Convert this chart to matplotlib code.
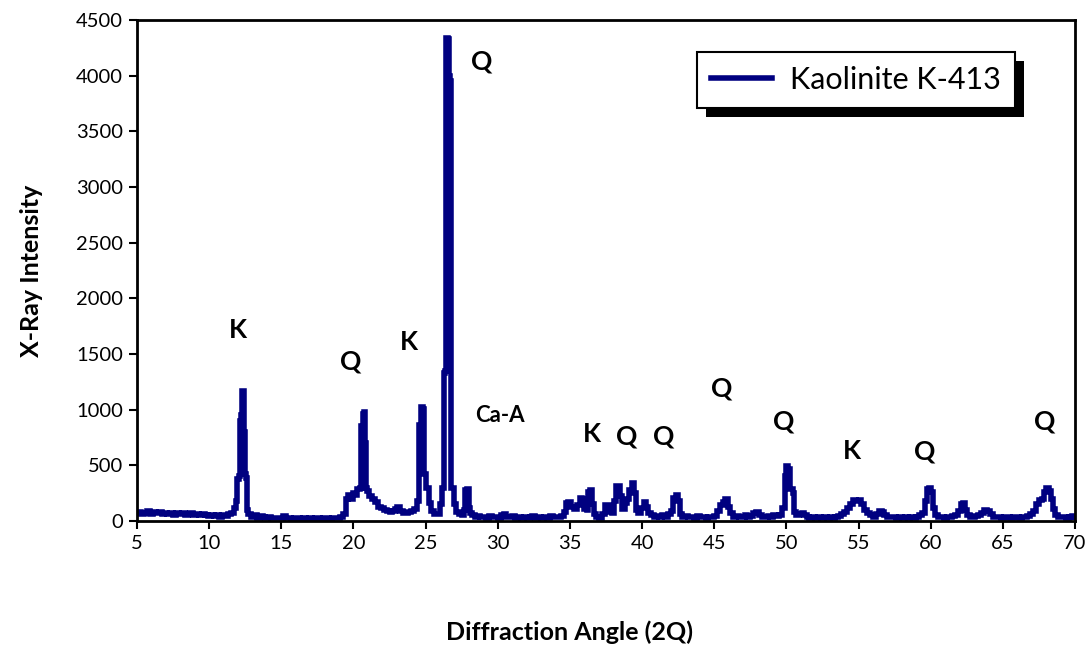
import matplotlib
matplotlib.use("Agg")
from matplotlib import pyplot as plt
from matplotlib.patches import Rectangle

plt.rcParams['font.family'] = ['Lato', 'DejaVu Sans']

# diffraction scan
two_theta = [
    5.0, 5.2, 5.4, 5.6, 5.8, 6.0, 6.2, 6.4, 6.6, 6.8,
    7.0, 7.2, 7.4, 7.6, 7.8, 8.0, 8.2, 8.4, 8.6, 8.8,
    9.0, 9.2, 9.4, 9.6, 9.8, 10.0, 10.2, 10.4, 10.6, 10.8,
    11.0, 11.2, 11.4, 11.6, 11.8, 11.9, 12.0, 12.1, 12.15, 12.25,
    12.3, 12.4, 12.45, 12.5, 12.6, 12.65, 12.8, 13.0, 13.2, 13.4,
    13.6, 13.8, 14.0, 14.2, 14.4, 14.6, 14.8, 15.0, 15.2, 15.4,
    15.6, 15.8, 16.0, 16.2, 16.4, 16.6, 16.8, 17.0, 17.2, 17.4,
    17.6, 17.8, 18.0, 18.2, 18.4, 18.6, 18.8, 19.0, 19.2, 19.4,
    19.55, 19.7, 19.9, 20.0, 20.2, 20.35, 20.5, 20.6, 20.7, 20.8,
    20.85, 20.9, 21.0, 21.2, 21.4, 21.6, 21.8, 22.0, 22.2, 22.4,
    22.6, 22.8, 23.0, 23.1, 23.3, 23.5, 23.7, 23.9, 24.1, 24.3,
    24.5, 24.6, 24.75, 24.85, 24.95, 25.1, 25.3, 25.5, 25.7, 25.9,
    26.1, 26.2, 26.3, 26.4, 26.45, 26.6, 26.65, 26.75, 26.8, 26.9,
    27.0, 27.2, 27.4, 27.6, 27.7, 27.8, 27.95, 28.0, 28.1, 28.3,
    28.5, 28.7, 28.9, 29.1, 29.3, 29.5, 29.7, 29.9, 30.1, 30.3,
    30.5, 30.7, 30.9, 31.1, 31.3, 31.5, 31.7, 31.9, 32.1, 32.3,
    32.5, 32.7, 32.9, 33.1, 33.3, 33.5, 33.7, 33.9, 34.1, 34.3,
    34.5, 34.7, 34.8, 35.0, 35.2, 35.4, 35.6, 35.8, 35.9, 36.1,
    36.2, 36.3, 36.5, 36.6, 36.7, 36.9, 37.1, 37.3, 37.5, 37.65,
    37.8, 38.0, 38.1, 38.25, 38.4, 38.5, 38.7, 38.9, 39.0, 39.2,
    39.35, 39.5, 39.65, 39.8, 40.0, 40.2, 40.35, 40.5, 40.7, 40.9,
    41.1, 41.3, 41.5, 41.7, 41.9, 42.1, 42.25, 42.4, 42.55, 42.7,
    42.9, 43.1, 43.3, 43.5, 43.7, 43.9, 44.1, 44.3, 44.5, 44.7,
    44.9, 45.1, 45.3, 45.5, 45.7, 45.85, 46.0, 46.2, 46.4, 46.6,
    46.8, 47.0, 47.2, 47.4, 47.6, 47.8, 48.0, 48.2, 48.4, 48.6,
    48.8, 49.0, 49.2, 49.4, 49.6, 49.8, 49.95, 50.05, 50.2, 50.35,
    50.5, 50.6, 50.8, 51.0, 51.15, 51.3, 51.5, 51.7, 51.9, 52.1,
    52.3, 52.5, 52.7, 52.9, 53.1, 53.3, 53.5, 53.7, 53.9, 54.1,
    54.3, 54.5, 54.7, 54.9, 55.1, 55.3, 55.5, 55.7, 55.9, 56.1,
    56.3, 56.5, 56.7, 56.9, 57.1, 57.3, 57.5, 57.7, 57.9, 58.1,
    58.3, 58.5, 58.7, 58.9, 59.1, 59.3, 59.5, 59.65, 59.8, 59.95,
    60.1, 60.25, 60.4, 60.6, 60.8, 61.0, 61.2, 61.4, 61.6, 61.8,
    62.0, 62.15, 62.3, 62.45, 62.6, 62.8, 63.0, 63.2, 63.4, 63.6,
    63.8, 64.0, 64.2, 64.4, 64.6, 64.8, 65.0, 65.2, 65.4, 65.6,
    65.8, 66.0, 66.2, 66.4, 66.6, 66.8, 67.0, 67.2, 67.4, 67.6,
    67.8, 67.95, 68.1, 68.25, 68.4, 68.55, 68.7, 68.9, 69.1, 69.3,
    69.5, 69.7, 69.9, 70.0,
]
intensity = [
    70, 85, 60, 75, 90, 65, 80, 70, 85, 60,
    70, 65, 75, 55, 70, 60, 75, 55, 65, 70,
    55, 60, 50, 65, 55, 45, 55, 45, 50, 40,
    55, 45, 60, 70, 120, 180, 380, 400, 900, 950,
    1170, 1170, 800, 420, 390, 100, 60, 40, 50, 30,
    45, 35, 25, 40, 30, 25, 30, 25, 45, 30,
    25, 20, 30, 25, 20, 30, 20, 25, 20, 30,
    25, 20, 25, 30, 20, 25, 30, 25, 35, 60,
    200, 230, 200, 250, 230, 290, 300, 850, 960, 980,
    700, 300, 270, 220, 200, 170, 130, 120, 100, 90,
    80, 90, 110, 130, 90, 75, 70, 80, 90, 110,
    180, 860, 1020, 1010, 420, 300, 160, 90, 60, 60,
    150, 300, 1330, 1350, 4340, 4330, 4000, 3950, 300, 300,
    150, 80, 60, 50, 100, 280, 290, 120, 70, 50,
    40, 45, 35, 40, 30, 45, 35, 40, 30, 55,
    60, 40, 35, 45, 30, 35, 25, 40, 30, 35,
    45, 30, 40, 30, 35, 30, 45, 35, 40, 35,
    45, 80, 160, 170, 130, 110, 140, 210, 200, 110,
    100, 260, 280, 150, 60, 40, 30, 60, 140, 140,
    80, 70, 180, 310, 310, 220, 110, 160, 200, 280,
    340, 250, 100, 70, 120, 170, 130, 70, 50, 40,
    45, 40, 50, 40, 60, 90, 210, 230, 180, 60,
    40, 45, 35, 40, 30, 45, 35, 40, 30, 35,
    40, 45, 90, 140, 170, 200, 130, 70, 40, 45,
    35, 40, 50, 35, 45, 70, 80, 55, 40, 35,
    45, 40, 50, 45, 55, 120, 400, 490, 470, 290,
    250, 80, 50, 60, 75, 50, 40, 30, 40, 30,
    35, 25, 40, 30, 35, 25, 40, 45, 60, 80,
    120, 150, 190, 180, 190, 150, 100, 70, 50, 40,
    60, 90, 80, 50, 40, 35, 40, 30, 35, 25,
    40, 30, 35, 25, 40, 50, 70, 180, 290, 300,
    260, 120, 50, 35, 40, 30, 40, 35, 45, 50,
    90, 150, 160, 100, 50, 40, 35, 45, 50, 70,
    95, 90, 60, 40, 35, 40, 30, 40, 35, 30,
    40, 35, 30, 40, 35, 45, 60, 90, 150, 190,
    200, 260, 300, 270, 200, 110, 50, 40, 35, 40,
    30, 35, 45, 40,
]
assert len(two_theta) == len(intensity)

# phase labels (K = kaolinite, Q = quartz)
peak_labels = ['K', 'Q', 'K', 'Q', 'K', 'Q', 'Q', 'Q', 'Q', 'K', 'Q', 'Q']
peak_x = [12.0, 19.8, 23.85, 28.9, 36.5, 38.9, 41.5, 45.5, 49.8, 54.55, 59.6, 67.9]
peak_y = [1716, 1428, 1608, 4123, 781, 763, 763, 1186, 889, 629, 620, 889]

x_ticks = [5, 10, 15, 20, 25, 30, 35, 40, 45, 50, 55, 60, 65, 70]
y_ticks = [0, 500, 1000, 1500, 2000, 2500, 3000, 3500, 4000, 4500]


def main():
    fig = plt.figure(figsize=(10.91, 6.5), dpi=100)
    ax = fig.add_axes([0.1256, 0.1985, 0.8597, 0.7708])

    ax.plot(two_theta, intensity, color='#000080', linewidth=4,
            drawstyle='steps-mid', solid_joinstyle='miter',
            label='Kaolinite K-413')

    for txt, x, y in zip(peak_labels, peak_x, peak_y):
        ax.text(x, y, txt, fontsize=19, fontweight='bold', ha='center', va='center')
    ax.text(30.15, 943, 'Ca-A', fontsize=16, fontweight='bold', ha='center', va='center')

    ax.set_xlim(5, 70)
    ax.set_ylim(0, 4500)
    ax.set_xticks(x_ticks)
    ax.set_yticks(y_ticks)
    ax.tick_params(direction='out', length=6, width=1.5, labelsize=14.5, pad=4)
    for sp in ax.spines.values():
        sp.set_linewidth(2)

    ax.set_xlabel('Diffraction Angle (2Q)', fontsize=18, fontweight='bold', va='center')
    ax.set_ylabel('X-Ray Intensity', fontsize=18, fontweight='bold', va='center')
    ax.xaxis.set_label_coords(0.4606, -0.222)
    ax.yaxis.set_label_coords(-0.112, 0.5)

    leg = ax.legend(loc='upper right', bbox_to_anchor=(0.936, 0.936), borderaxespad=0,
                    fancybox=False, framealpha=1, fontsize=22, handlelength=2.0,
                    handletextpad=0.6, borderpad=0.45)
    leg.get_frame().set_edgecolor('black')
    leg.get_frame().set_linewidth(1.5)
    leg.get_lines()[0].set_linewidth(4)
    leg.set_zorder(5)

    # hard black drop shadow behind the legend box
    fig.canvas.draw()
    bb = leg.get_window_extent()
    shadow = Rectangle((bb.x0 + 9, bb.y0 - 9), bb.width, bb.height,
                       transform=None, facecolor='black', edgecolor='none', zorder=4)
    ax.add_artist(shadow)

    fig.savefig('out.png', dpi=100)


if __name__ == '__main__':
    main()
